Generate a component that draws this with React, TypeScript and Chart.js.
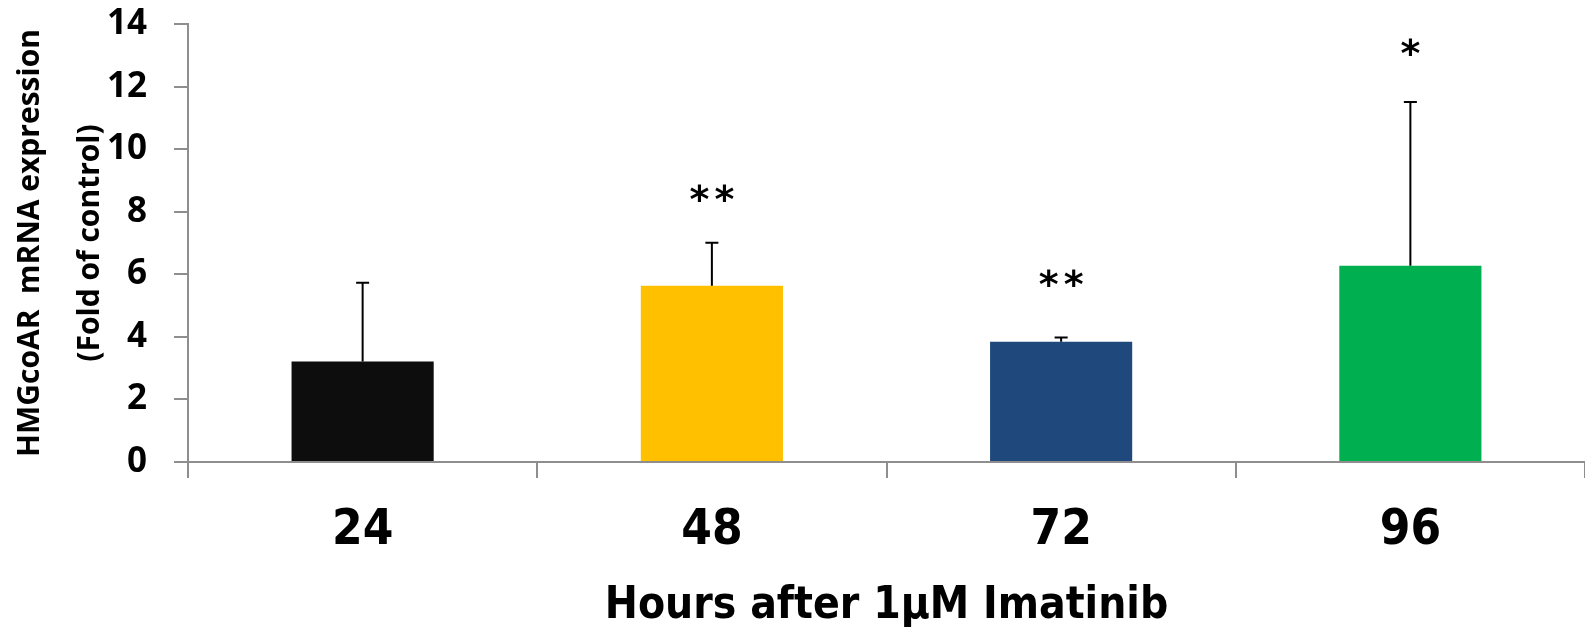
import React, { useEffect, useRef } from "react";
import { Chart, registerables } from "chart.js";

Chart.register(...registerables);

// ---- data ----
const categories = ["24", "48", "72", "96"];
const meanValues = [3.21, 5.63, 3.84, 6.27];
const errorUp = [2.52, 1.38, 0.14, 5.24];
const barColors = ["#0D0D0D", "#FFC000", "#1F497D", "#00B050"];
const significance = ["", "**", "**", "*"];
const significanceY = [0, 8.61, 5.89, 13.27];
const yTickValues = [0, 2, 4, 6, 8, 10, 12, 14];
const xTitle = "Hours after 1\u03BCM Imatinib";
const yTitle = ["HMGcoAR  mRNA expression", "(Fold of control)"];

const AXIS_COLOR = "#8E8E8E";
const NARROW = "'DejaVu Sans Condensed', 'Liberation Sans Narrow', 'DejaVu Sans', sans-serif";
const OPEN = "'Open Sans', sans-serif";

const errorBarPlugin = {
  id: "errorBars",
  afterDatasetsDraw(chart: any) {
    const { ctx, scales } = chart;
    const x = scales.x;
    const y = scales.y;
    ctx.save();
    ctx.strokeStyle = "#000";
    ctx.lineWidth = 2;
    meanValues.forEach((v, i) => {
      const px = x.getPixelForValue(i);
      const yBase = y.getPixelForValue(v);
      const yTop = y.getPixelForValue(v + errorUp[i]);
      ctx.beginPath();
      ctx.moveTo(px, yBase);
      ctx.lineTo(px, yTop);
      ctx.moveTo(px - 6.5, yTop);
      ctx.lineTo(px + 6.5, yTop);
      ctx.stroke();
    });
    // significance stars
    ctx.fillStyle = "#000";
    ctx.font = "bold 38px 'DejaVu Sans', sans-serif";
    ctx.textAlign = "center";
    ctx.textBaseline = "alphabetic";
    const m = ctx.measureText("*");
    const asc = m.actualBoundingBoxAscent;
    const desc = m.actualBoundingBoxDescent;
    significance.forEach((s, i) => {
      if (!s) return;
      const px = x.getPixelForValue(i);
      const cy = y.getPixelForValue(significanceY[i]);
      const baseY = cy - (desc - asc) / 2;
      const n = s.length;
      for (let k = 0; k < n; k++) {
        const off = (k - (n - 1) / 2) * 25;
        ctx.fillText("*", px + off, baseY);
      }
    });
    ctx.restore();
  },
};

export default function App() {
  const canvasRef = useRef<HTMLCanvasElement | null>(null);

  useEffect(() => {
    if (!canvasRef.current) return;
    const chart = new Chart(canvasRef.current, {
      type: "bar",
      data: {
        labels: categories,
        datasets: [
          {
            data: meanValues,
            backgroundColor: barColors,
            borderWidth: 0,
            barPercentage: 0.407,
            categoryPercentage: 1,
          },
        ],
      },
      options: {
        animation: false,
        responsive: true,
        maintainAspectRatio: false,
        layout: { padding: { top: 24, right: 0, bottom: 0, left: 0 } },
        plugins: {
          legend: { display: false },
          tooltip: { enabled: false },
        },
        scales: {
          x: {
            grid: {
              display: true,
              drawOnChartArea: false,
              drawTicks: true,
              tickLength: 16,
              color: AXIS_COLOR,
              lineWidth: 2,
              offset: true,
            },
            border: { display: true, color: AXIS_COLOR, width: 2 },
            ticks: {
              padding: 24,
              color: "#000",
              font: { family: NARROW, size: 49, weight: "bold" },
            },
            title: {
              display: true,
              text: xTitle,
              color: "#000",
              font: { family: NARROW, size: 44, weight: "bold" },
              padding: { top: 0, bottom: 0 },
            },
            afterFit: (s: any) => {
              s.height = 171;
              s.paddingLeft = 0;
              s.paddingRight = 0;
            },
          },
          y: {
            min: 0,
            max: 14,
            afterBuildTicks: (s: any) => {
              s.ticks = yTickValues.map((v) => ({ value: v }));
            },
            ticks: {
              padding: 27,
              color: "#000",
              font: { family: OPEN, size: 35, weight: "bold" },
            },
            grid: {
              drawOnChartArea: false,
              drawTicks: true,
              tickLength: 14,
              color: AXIS_COLOR,
              lineWidth: 2,
            },
            border: { display: true, color: AXIS_COLOR, width: 2 },
            title: {
              display: true,
              text: yTitle,
              color: "#000",
              font: { family: OPEN, size: 30, weight: "bold", lineHeight: 2.02 },
              padding: { top: 0, bottom: 0 },
            },
            afterFit: (s: any) => {
              s.width = 188;
              s.paddingTop = 0;
              s.paddingBottom = 0;
            },
          },
        },
      },
      plugins: [errorBarPlugin],
    });
    return () => chart.destroy();
  }, []);

  return (
    <div style={{ position: "fixed", left: 0, top: 0, width: 1585, height: 633, background: "#fff" }}>
      <canvas ref={canvasRef} />
    </div>
  );
}
